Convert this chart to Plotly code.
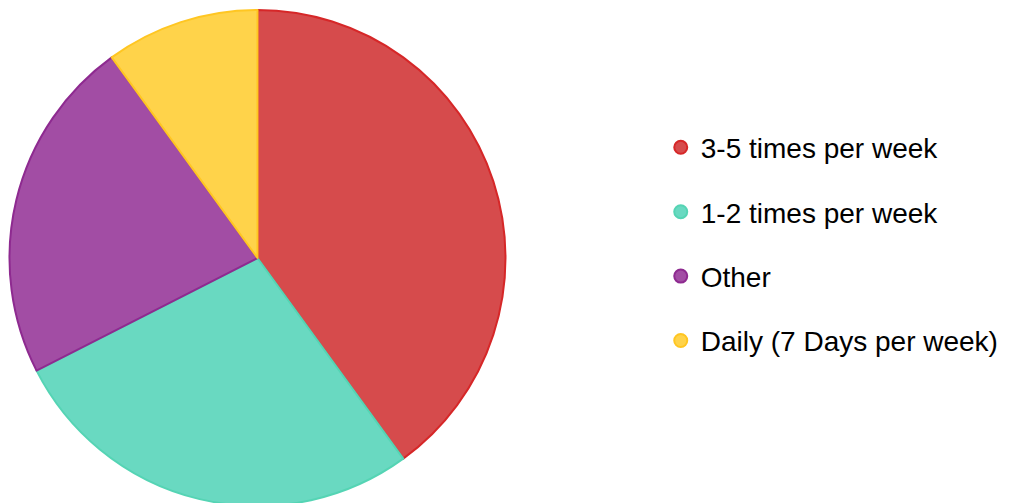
import plotly.graph_objects as go

labels = ["3-5 times per week", "1-2 times per week", "Other", "Daily (7 Days per week)"]
values = [16, 11, 9, 4]
fill_colors = ["#D64B4C", "#69D9C1", "#A24DA4", "#FFD34A"]
border_colors = ["#D62728", "#55D4B4", "#8E2A90", "#FFC622"]

fig = go.Figure()
fig.add_trace(go.Pie(
    labels=labels, values=values, sort=False, direction="clockwise", rotation=0,
    marker=dict(colors=fill_colors, line=dict(color=border_colors, width=2)),
    textinfo="none", showlegend=False,
    domain=dict(x=[1/1012, 498/1012], y=[0, 1]),
))
for i, lab in enumerate(labels):
    fig.add_trace(go.Scatter(
        x=[None], y=[None], mode="markers", name=lab, legendgroup=f"g{i}",
        marker=dict(symbol="circle", size=13, color=fill_colors[i],
                    line=dict(color=border_colors[i], width=2)),
    ))

fig.update_layout(
    width=1012, height=503,
    margin=dict(l=0, r=0, t=2, b=5),
    paper_bgcolor="white", plot_bgcolor="white",
    xaxis=dict(visible=False), yaxis=dict(visible=False),
    font=dict(family="Liberation Sans, Arial, sans-serif", size=28, color="#000000"),
    legend=dict(x=0.645, y=0.528, xanchor="left", yanchor="middle",
                tracegroupgap=25, itemwidth=30, font=dict(size=28)),
)
fig.write_html("out.html")
